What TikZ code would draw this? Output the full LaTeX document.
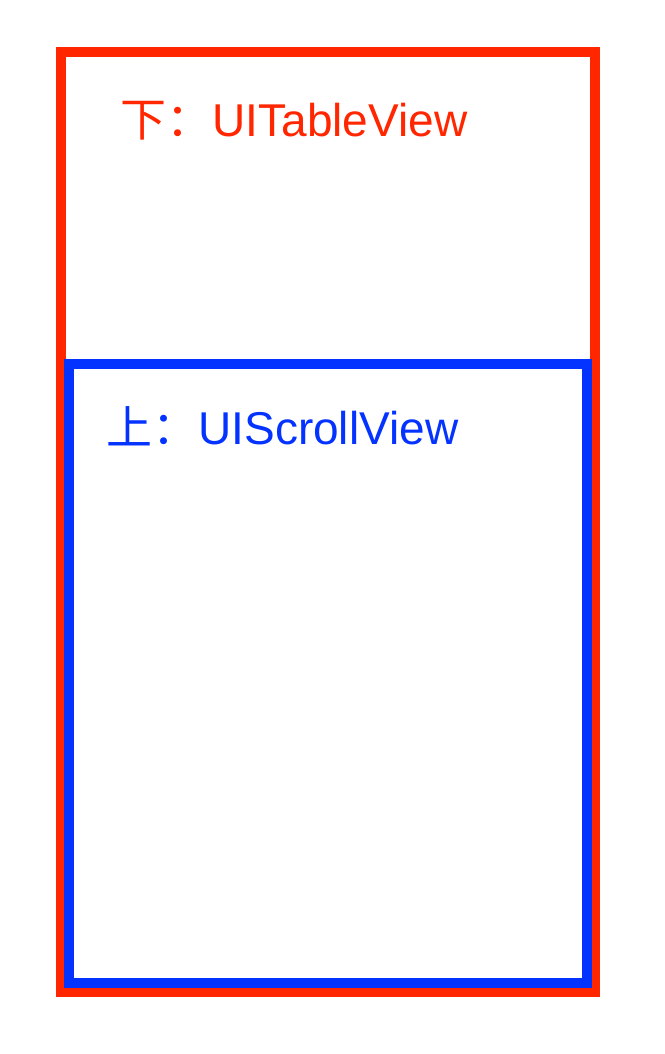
\documentclass[tikz,border=0pt]{standalone}
\usepackage{fontspec}
\setmainfont{Liberation Sans}
\newfontfamily\cjk{Noto Sans CJK SC}
\definecolor{viewred}{HTML}{FF2600}
\definecolor{viewblue}{HTML}{0433FF}
\begin{document}
\begin{tikzpicture}[x=0.5pt, y=-0.5pt]
    \useasboundingbox (0,0) rectangle (664,1054);
    \tikzset{
        viewframe/.style={line width=5pt},
        viewlabel/.style={anchor=base west, inner sep=0pt, font=\fontsize{23}{25}\selectfont}
    }

    % bottom layer: the table view
    \draw[viewframe, viewred] (61,52.5) rectangle (595,992);
    \node[viewlabel, text=viewred] (tablelabel) at (120,136) {{\cjk 下：}UITableView};

    % top layer: the scroll view
    \draw[viewframe, viewblue] (69,364) rectangle (587,982.5);
    \node[viewlabel, text=viewblue] (scrolllabel) at (106,444) {{\cjk 上：}UIScrollView};

\end{tikzpicture}
\end{document}
